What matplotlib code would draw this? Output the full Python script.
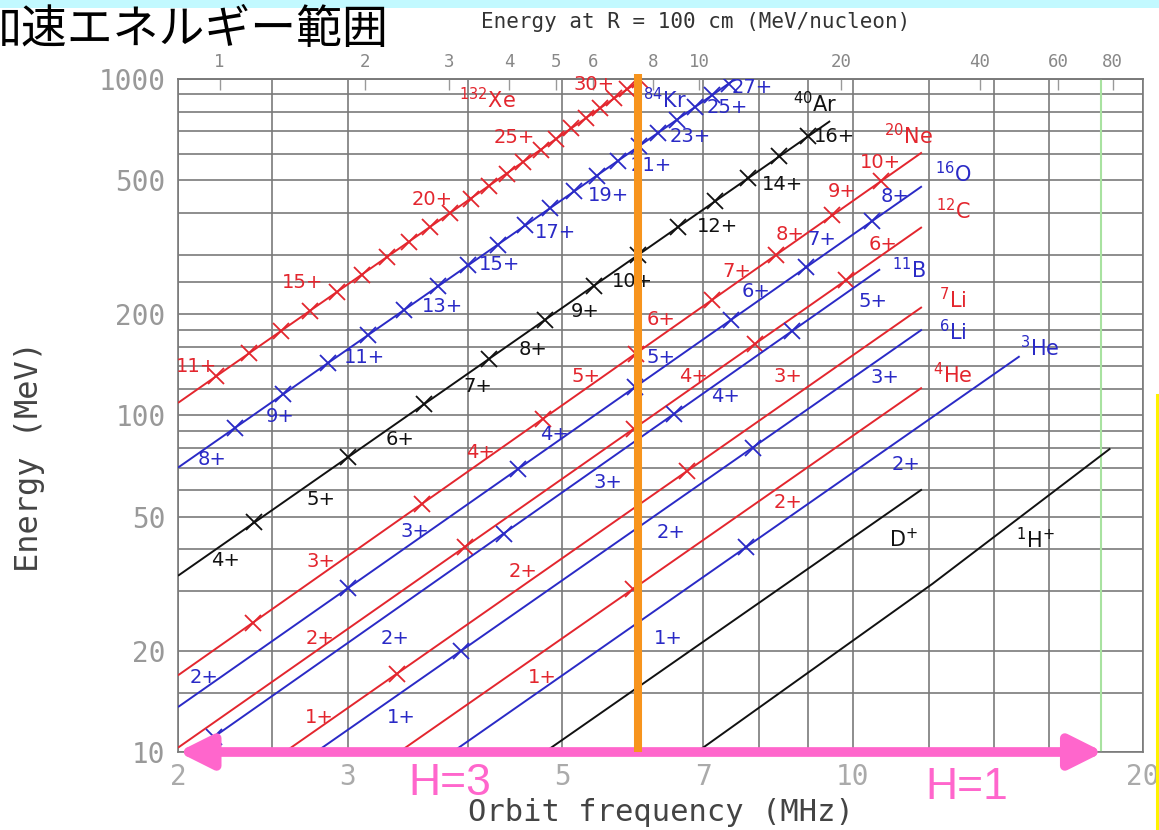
import numpy as np
import matplotlib
matplotlib.use("Agg")
import matplotlib.pyplot as plt
from matplotlib.lines import Line2D
from matplotlib.patches import Rectangle
from matplotlib.ticker import NullFormatter, NullLocator

plt.rcParams['font.family'] = ['DejaVu Sans']

RED = '#E3262E'
BLUE = '#2A2AC6'
BLACK = '#111111'

# ---------------- data (frequency MHz, energy MeV) ----------------
# line endpoints
xe_f = [2.0, 6.05];   xe_E = [109, 1000]
kr_f = [2.0, 7.56];   kr_E = [70, 1000]
ar_f = [2.0, 9.48];   ar_E = [33.4, 750]
ne_f = [2.0, 11.8];   ne_E = [16.9, 605]
o_f  = [2.0, 11.8];   o_E  = [13.6, 480]
c_f  = [2.0, 11.8];   c_E  = [10.3, 363]
b_f  = [2.07, 10.68]; b_E  = [10.0, 272]
li7_f = [2.58, 11.8]; li7_E = [10.0, 210]
li6_f = [2.78, 11.8]; li6_E = [10.0, 180]
he4_f = [3.39, 11.8]; he4_E = [10.0, 121]
he3_f = [3.85, 14.9]; he3_E = [10.0, 150]
d_f  = [4.8, 11.8];   d_E  = [10.0, 60.3]
h_f  = [6.9, 12.1, 18.5]; h_E = [10.0, 31.6, 79.8]

# marker frequencies (charge states)
xe_m = [2.19, 2.37, 2.56, 2.74, 2.92, 3.10, 3.29, 3.47, 3.65, 3.83, 4.02,
        4.20, 4.38, 4.56, 4.75, 4.93, 5.11, 5.29, 5.48, 5.66, 5.84, 6.02]
kr_m = [2.29, 2.57, 2.86, 3.15, 3.43, 3.72, 4.00, 4.29, 4.58, 4.86, 5.15,
        5.43, 5.72, 6.01, 6.29, 6.58, 6.86, 7.15, 7.44]
ar_m = [2.4, 3.0, 3.6, 4.2, 4.8, 5.4, 6.0, 6.6, 7.2, 7.8, 8.4, 9.0]
ne_m = [2.39, 3.58, 4.78, 5.96, 7.15, 8.34, 9.53, 10.7]
o_m  = [3.0, 4.5, 5.95, 7.48, 8.95, 10.47]
c_m  = [3.97, 5.93, 7.92, 9.85]
b_m  = [2.18, 4.35, 6.53, 8.65]
li7_m = [3.37, 6.73]
li6_m = [3.93, 7.88]
he4_m = [5.92]
he3_m = [7.75]

# charge-state labels (text, freq, energy)
red_labels = [('11+', 2.09, 140), ('15+', 2.69, 249), ('20+', 3.67, 439),
              ('25+', 4.46, 672), ('30+', 5.40, 966),
              ('3+', 2.81, 36.8), ('2+', 2.81, 21.8), ('1+', 2.80, 12.7),
              ('4+', 4.12, 77.6), ('5+', 5.29, 131), ('2+', 4.56, 34.3),
              ('1+', 4.77, 16.7), ('6+', 6.33, 193), ('4+', 6.85, 131),
              ('7+', 7.59, 268), ('3+', 8.58, 131), ('2+', 8.58, 55.1),
              ('8+', 8.62, 346), ('9+', 9.75, 464), ('10+', 10.68, 566),
              ('6+', 10.76, 323)]
blue_labels = [('8+', 2.17, 74.0), ('9+', 2.55, 99.3), ('11+', 3.12, 149),
               ('13+', 3.76, 211), ('15+', 4.31, 281), ('17+', 4.92, 350),
               ('19+', 5.58, 452), ('21+', 6.18, 555), ('23+', 6.79, 677),
               ('25+', 7.41, 825), ('27+', 7.87, 946),
               ('2+', 2.13, 16.7), ('2+', 3.36, 21.8), ('1+', 3.41, 12.7),
               ('3+', 3.52, 45.2), ('4+', 4.91, 87.8), ('3+', 5.58, 63.2),
               ('5+', 6.33, 149), ('2+', 6.49, 44.9), ('1+', 6.45, 21.8),
               ('4+', 7.38, 114), ('6+', 7.94, 234), ('7+', 9.30, 334),
               ('8+', 11.07, 449), ('5+', 10.50, 218), ('3+', 10.81, 130),
               ('2+', 11.36, 71.5)]
black_labels = [('4+', 2.24, 37.0), ('5+', 2.81, 56.2), ('6+', 3.40, 84.8),
                ('7+', 4.09, 122), ('8+', 4.67, 157), ('9+', 5.29, 204),
                ('10+', 5.91, 251), ('12+', 7.25, 365), ('14+', 8.47, 487),
                ('16+', 9.59, 677)]

# ion name labels (text, freq, energy)
red_ions = [(r'$^{132}$Xe', 4.18, 866), (r'$^{20}$Ne', 11.42, 681),
            (r'$^{12}$C', 12.71, 405), (r'$^{7}$Li', 12.71, 221),
            (r'$^{4}$He', 12.71, 132)]
blue_ions = [(r'$^{84}$Kr', 6.39, 866), (r'$^{16}$O', 12.71, 525),
             (r'$^{11}$B', 11.45, 272), (r'$^{6}$Li', 12.71, 178),
             (r'$^{3}$He', 15.65, 159)]
black_ions = [(r'$^{40}$Ar', 9.15, 843), (r'D$^{+}$', 11.28, 42.8),
              (r'$^{1}$H$^{+}$', 15.46, 42.8)]

x_ticks = [2, 3, 5, 7, 10, 20]
x_tick_labels = ['2', '3', '5', '7', '10', '20']
x_grid_minor = [2.5, 4, 6, 8, 9, 12, 14, 16]
y_ticks = [10, 20, 50, 100, 200, 500, 1000]
y_tick_labels = ['10', '20', '50', '100', '200', '500', '1000']
y_grid_minor = [15, 30, 40, 60, 70, 80, 90, 120, 140, 160, 180, 250, 300,
                400, 600, 700, 800, 900]
top_ticks = [1, 2, 3, 4, 5, 6, 8, 10, 20, 40, 60, 80]

orange_f = 6.0
green_f = 18.1
arrow_f = [2.0, 18.2]
arrow_E = 10.0

# ---------------- figure ----------------
W, H = 1159, 830
fig = plt.figure(figsize=(W / 100, H / 100), dpi=100)
fig.patch.set_facecolor('white')
ax = fig.add_axes([178 / W, 1 - 752 / H, 965 / W, 673 / H])
ax.set_xscale('log')
ax.set_yscale('log')
ax.set_xlim(2, 20)
ax.set_ylim(10, 1000)

GRID = '#7a7a7a'
ax.set_xticks(x_ticks)
ax.set_xticklabels(x_tick_labels)
ax.set_xticks(x_grid_minor, minor=True)
ax.xaxis.set_minor_formatter(NullFormatter())
ax.set_yticks(y_ticks)
ax.set_yticklabels(y_tick_labels)
ax.set_yticks(y_grid_minor, minor=True)
ax.yaxis.set_minor_formatter(NullFormatter())
ax.grid(which='both', color=GRID, lw=1.2, zorder=1)
ax.set_axisbelow(True)
ax.tick_params(which='both', length=0)
ax.tick_params(axis='x', labelsize=20, labelcolor='#aaaaaa', pad=8)
ax.tick_params(axis='y', labelsize=20, labelcolor='#999999', pad=9)
for lab in ax.get_xticklabels() + ax.get_yticklabels():
    lab.set_family('DejaVu Sans Mono')
for s in ax.spines.values():
    s.set_color(GRID)
    s.set_linewidth(1.2)

# top axis: energy per nucleon at R = 100 cm
R = 1.0
C_LIGHT = 299792458.0
MU = 931.494

def f2e(f):
    beta = 2 * np.pi * np.asarray(f, dtype=float) * 1e6 * R / C_LIGHT
    beta = np.clip(beta, 1e-9, 0.999)
    return MU * (1 / np.sqrt(1 - beta ** 2) - 1)

def e2f(E):
    g = 1 + np.clip(np.asarray(E, dtype=float), 1e-12, None) / MU
    beta = np.sqrt(1 - 1 / g ** 2)
    return beta * C_LIGHT / (2 * np.pi * R) / 1e6

sec = ax.secondary_xaxis('top', functions=(f2e, e2f))
sec.set_xticks(top_ticks)
sec.set_xticklabels([str(t) for t in top_ticks])
sec.xaxis.set_minor_locator(NullLocator())
sec.tick_params(direction='in', length=8, width=1, color='#999999',
                labelsize=12.5, labelcolor='#888888', pad=6)
for lab in sec.get_xticklabels():
    lab.set_family('DejaVu Sans Mono')
sec.spines['top'].set_color(GRID)
sec.spines['top'].set_linewidth(1.2)


def on_line(fs, Es, fm):
    return np.exp(np.interp(np.log(fm), np.log(fs), np.log(Es)))


series = [
    (xe_f, xe_E, xe_m, RED), (kr_f, kr_E, kr_m, BLUE), (ar_f, ar_E, ar_m, BLACK),
    (ne_f, ne_E, ne_m, RED), (o_f, o_E, o_m, BLUE), (c_f, c_E, c_m, RED),
    (b_f, b_E, b_m, BLUE), (li7_f, li7_E, li7_m, RED), (li6_f, li6_E, li6_m, BLUE),
    (he4_f, he4_E, he4_m, RED), (he3_f, he3_E, he3_m, BLUE),
    (d_f, d_E, [], BLACK), (h_f, h_E, [], BLACK),
]
for fs, Es, fm, col in series:
    ax.plot(fs, Es, color=col, lw=1.4, zorder=3, solid_capstyle='butt')
    if fm:
        ax.plot(fm, on_line(fs, Es, fm), ls='none', marker='x', ms=11,
                mew=1.3, color=col, zorder=3)

for labels, col in [(red_labels, RED), (blue_labels, BLUE), (black_labels, BLACK)]:
    for t, f, E in labels:
        ax.text(f, E, t, color=col, fontsize=14, ha='center', va='center',
                zorder=5)
for labels, col in [(red_ions, RED), (blue_ions, BLUE), (black_ions, BLACK)]:
    for t, f, E in labels:
        ax.text(f, E, t, color=col, fontsize=15, ha='center', va='center',
                zorder=5)

# green vertical marker line
ax.axvline(green_f, color='#A8E2A0', lw=1.5, zorder=2)

# pink double arrow
ax.annotate('', xy=(arrow_f[0], arrow_E), xytext=(arrow_f[1], arrow_E),
            arrowprops=dict(arrowstyle='<|-|>,head_length=20,head_width=10',
                            mutation_scale=1, lw=7, color='#FF66CC',
                            shrinkA=0, shrinkB=0),
            annotation_clip=False, zorder=6)

# orange vertical line
ax.plot([orange_f, orange_f], [10, 1035], color='#F7941D', lw=5.8,
        clip_on=False, zorder=7, solid_capstyle='butt')

# ---------------- texts ----------------
fig.text(389 / W, 1 - 30 / H, '加速エネルギー範囲', ha='right', va='center',
         fontsize=33, color='black', family=['Noto Sans CJK JP', 'DejaVu Sans'])
fig.text(696 / W, 1 - 22 / H, 'Energy at R = 100 cm (MeV/nucleon)',
         ha='center', va='center', fontsize=15, color='#333333',
         family='DejaVu Sans Mono')
fig.text(30 / W, 1 - 457 / H, 'Energy (MeV)', rotation=90, ha='center',
         va='center', fontsize=23, color='#444444', family='DejaVu Sans Mono')
fig.text(661 / W, 1 - 812 / H, 'Orbit frequency (MHz)', ha='center',
         va='center', fontsize=22, color='#444444', family='DejaVu Sans Mono')
fig.text(450 / W, 1 - 783 / H, 'H=3', ha='center', va='center', fontsize=32,
         color='#FF66CC', family='Liberation Sans')
fig.text(967 / W, 1 - 787 / H, 'H=1', ha='center', va='center', fontsize=32,
         color='#FF66CC', family='Liberation Sans')

# decorations
fig.add_artist(Rectangle((0, 1 - 8 / H), 1, 8 / H, transform=fig.transFigure,
                         facecolor='#C2F9FF', edgecolor='none', zorder=0))
fig.add_artist(Line2D([1157 / W, 1157 / W], [0, 1 - 395 / H],
                      transform=fig.transFigure, color='#FFF200', lw=2.2))

fig.savefig('out.png', dpi=100)
